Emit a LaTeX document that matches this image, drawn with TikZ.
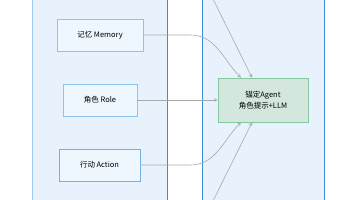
\documentclass[tikz,border=0pt]{standalone}
\usepackage{fontspec}
\setmainfont{Noto Sans CJK SC}
\definecolor{panelfill}{HTML}{E7F2FD}
\definecolor{panelline}{HTML}{9CCAF0}
\definecolor{paneldark}{HTML}{3D8BD0}
\definecolor{boxfill}{HTML}{EEF6FE}
\definecolor{boxline}{HTML}{8CC3EF}
\definecolor{agentfill}{HTML}{D3E7DC}
\definecolor{agentline}{HTML}{82C8A0}
\definecolor{edgegray}{HTML}{A8A8A8}
\tikzset{
  partbox/.style={draw=boxline,fill=boxfill,line width=0.8pt,minimum height=32pt,font=\fontsize{7.5}{9}\selectfont},
  agentbox/.style={draw=agentline,fill=agentfill,line width=0.8pt,minimum width=90pt,minimum height=44pt,align=center,font=\fontsize{7.5}{10.5}\selectfont},
  flow/.style={->,draw=edgegray,line width=0.6pt}
}
\begin{document}
\begin{tikzpicture}[x=1pt,y=1pt,>=stealth]
    \useasboundingbox (0,0) rectangle (356,200);
    \clip (0,0) rectangle (356,200);
    % panels
    \draw[fill=panelfill,draw=panelline,line width=0.8pt](32,-10) rectangle (167,210);
    \draw[paneldark,line width=0.8pt](167,-10)--(167,210);
    \draw[fill=panelfill,draw=paneldark,line width=1pt](202,-10) rectangle (324,210);
    % parts
    \node[partbox,minimum width=86pt](mem) at (100,165) {记忆 Memory};
    \node[partbox,minimum width=74pt](role) at (100,100) {角色 Role};
    \node[partbox,minimum width=81pt,draw=boxline!70!paneldark](act) at (99.5,35) {行动 Action};
    \node[agentbox](agent) at (263,100) {锚定Agent\\角色提示+LLM};
    \coordinate (topin) at (213,201);
    \coordinate (botin) at (213,-1);
    % connectors
    \draw[flow](mem.east)--(190,165) to[out=0,in=135] ([xshift=-22pt]agent.north);
    \draw[flow](topin)--([xshift=-11pt]agent.north);
    \draw[flow](role.east)--(agent.west);
    \draw[flow](act.east)--(190,35) to[out=0,in=-135] ([xshift=-22pt]agent.south);
    \draw[flow](botin)--([xshift=-11pt]agent.south);
\end{tikzpicture}
\end{document}
